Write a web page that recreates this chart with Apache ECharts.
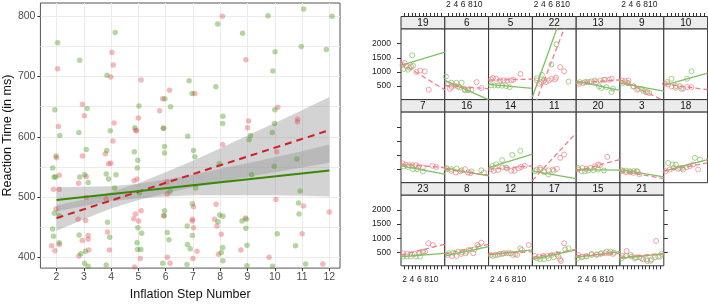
<!DOCTYPE html>
<html>
<head>
<meta charset="utf-8">
<script src="https://cdn.jsdelivr.net/npm/echarts@6/dist/echarts.min.js"></script>
<style>
  html, body { margin: 0; padding: 0; background: #fff; }
  #chart { width: 708px; height: 306px; }
</style>
</head>
<body>
<div id="chart"></div>
<script>
// ---------- left panel: pooled data ----------
const stepTicks = [2, 3, 4, 5, 6, 7, 8, 9, 10, 11, 12]
const rtLabels = [400, 500, 600, 700, 800]
const rtGridLines = [400, 450, 500, 550, 600, 650, 700, 750, 800]

const redPoints = [
  [2.04, 713], [2.07, 617], [2.0, 565], [2.1, 536], [1.89, 513], [2.1, 513], [1.98, 480], [2.1, 421], [1.82, 419], [1.94, 411],
  [2.95, 654], [3.02, 635], [2.95, 568], [3.09, 534], [2.81, 523], [3.09, 499], [2.79, 463], [3.07, 461], [2.94, 428], [3.16, 436], [3.16, 430], [3.18, 412], [2.82, 402],
  [4.03, 740], [4.08, 719], [3.99, 699], [4.11, 623], [4.07, 593], [3.79, 572], [3.91, 555], [3.99, 556], [3.82, 497], [3.87, 442], [3.94, 412],
  [5.1, 694], [5.0, 631], [4.9, 611], [4.93, 610], [4.84, 527], [4.95, 530], [4.89, 472], [5.1, 477], [5.01, 460], [4.83, 464], [5.07, 398], [4.86, 384],
  [5.89, 663], [6.14, 677], [5.78, 643], [5.91, 614], [6.05, 525], [6.06, 505], [5.92, 469], [6.06, 400], [6.16, 390],
  [7.07, 672], [7.02, 484], [6.98, 463], [6.98, 460], [7.02, 449], [7.15, 410], [7.0, 398],
  [8.08, 800], [8.09, 587], [7.85, 488], [7.79, 463], [7.88, 452], [8.04, 438], [7.94, 405],
  [8.94, 728], [9.04, 626], [9.0, 615], [8.92, 465], [8.76, 412],
  [10.11, 649], [10.07, 575], [10.04, 496], [9.79, 400],
  [10.83, 629], [10.83, 625], [11.05, 485], [11.0, 439], [11.76, 389],
  [12.0, 475]
]
const greenPoints = [
  [2.04, 756], [1.94, 645], [2.12, 602], [1.98, 568], [1.86, 548], [1.91, 533], [1.96, 533], [1.92, 473], [2.1, 469], [1.86, 447], [1.89, 435], [2.1, 424],
  [2.85, 727], [3.12, 647], [2.82, 607], [3.09, 579], [2.85, 533], [3.03, 537], [3.16, 524], [2.83, 437], [3.06, 410], [2.89, 406], [3.03, 390], [3.16, 385],
  [4.15, 773], [3.85, 702], [3.97, 610], [3.84, 577], [4.18, 537], [3.82, 538], [3.91, 530], [4.13, 515], [3.87, 458], [3.95, 433], [3.82, 387], [3.97, 381],
  [5.02, 651], [4.87, 615], [4.85, 575], [4.98, 561], [4.96, 548], [5.04, 507], [4.98, 449], [5.12, 440], [4.95, 424], [4.97, 413], [5.09, 413],
  [5.97, 663], [6.18, 650], [5.93, 614], [5.96, 584], [5.96, 573], [6.16, 509], [5.96, 477], [5.95, 469], [6.06, 441], [6.12, 429], [5.89, 390],
  [6.86, 693], [6.97, 672], [6.81, 601], [7.02, 577], [7.07, 567], [7.1, 515], [6.98, 489], [6.79, 452], [6.98, 436], [6.8, 421], [6.9, 414], [6.78, 388],
  [7.91, 787], [7.84, 683], [8.1, 634], [8.09, 622], [7.97, 555], [7.98, 470], [8.1, 468], [7.91, 459], [8.09, 416], [8.04, 408], [8.1, 394],
  [8.82, 772], [9.11, 602], [9.06, 595], [9.15, 537], [8.8, 460], [8.96, 463], [8.94, 448], [8.98, 420], [8.98, 386],
  [9.75, 801], [10.01, 741], [9.93, 709], [10.0, 645], [9.99, 622], [9.91, 607], [9.98, 551], [10.09, 439], [9.92, 385],
  [11.06, 812], [10.97, 750], [10.81, 563], [10.93, 510], [10.87, 490], [10.89, 472], [10.76, 419], [11.13, 389],
  [12.1, 800], [11.89, 745]
]

// confidence bands and fitted lines
const bandX = [2, 3, 4, 5, 6, 7, 8, 9, 10, 11, 12]
const redLower = [444, 463, 481, 495, 506, 516, 524, 533, 541, 549, 557]
const redUpper = [486, 496, 508, 523, 541, 560, 581, 602, 623, 644, 666]
const greenLower = [476, 485, 493, 498, 501, 503, 503, 503, 503, 502, 501]
const greenUpper = [516, 517, 518, 522, 529, 537, 547, 556, 566, 576, 587]
const redFit = [[2, 465], [12, 611]]
const greenFit = [[2, 495], [12, 544]]

// ---------- right panel: one small plot per participant ----------
const panelIds = [19, 6, 5, 22, 13, 9, 10, 7, 16, 14, 11, 20, 3, 18, 23, 8, 12, 17, 15, 21]
const panelRed = [
  [[1.4, 1250], [2.0, 1320], [2.5, 1200], [3.8, 1190], [5.2, 1000], [6.3, 1050], [7.5, 1020], [8.6, 370]],
  [[1.9, 560], [2.4, 400], [2.9, 470], [3.7, 520], [4.6, 480], [6.5, 380], [7.4, 380], [8.3, 370], [9.7, 640], [11.0, 430]],
  [[1.7, 735], [2.2, 790], [3.1, 760], [4.2, 700], [5.1, 700], [6.1, 700], [7.2, 700], [7.8, 720], [9.7, 930]],
  [[2.2, 700], [2.9, 582], [3.4, 641], [4.0, 676], [4.7, 641], [5.5, 700], [6.2, 759], [7.2, 735], [7.5, 800], [8.6, 1173], [9.7, 1025]],
  [[1.8, 582], [2.9, 606], [4.0, 641], [5.2, 664], [6.4, 641], [7.7, 700], [8.9, 724], [10.0, 724], [10.7, 759]],
  [[1.5, 700], [2.4, 676], [3.0, 606], [3.3, 700], [4.7, 487], [5.7, 369], [6.9, 405], [8.1, 286], [9.0, 250]],
  [[1.3, 582], [2.2, 558], [3.1, 487], [4.3, 440], [5.4, 500], [6.3, 405], [7.4, 464], [8.6, 464]],
  [[1.5, 700], [2.3, 660], [3.2, 640], [4.1, 640], [5.0, 640], [5.9, 600], [7.0, 560], [9.6, 620], [10.7, 580]],
  [[1.6, 500], [2.8, 440], [4.0, 380], [5.3, 420], [6.5, 500], [7.4, 380], [8.0, 360]],
  [[1.7, 499], [2.4, 440], [3.6, 470], [4.7, 558], [6.0, 530], [7.2, 440], [8.1, 440], [9.3, 530], [9.9, 580], [10.9, 620]],
  [[2.2, 487], [3.1, 546], [4.2, 428], [5.4, 460], [6.6, 487], [7.7, 511], [8.6, 901], [9.7, 1019]],
  [[1.5, 487], [2.7, 546], [3.8, 511], [4.9, 546], [6.1, 605], [7.0, 664], [7.5, 640], [9.5, 936]],
  [[1.7, 428], [2.6, 393], [3.7, 393], [4.7, 369], [5.6, 428], [6.3, 320]],
  [[1.5, 428], [2.6, 487], [3.7, 546], [4.9, 511], [6.1, 546], [7.2, 570], [8.1, 605], [9.0, 664], [10.4, 487]],
  [[1.6, 464], [2.6, 440], [3.6, 440], [4.8, 440], [6.0, 464], [6.9, 523], [7.6, 523], [8.5, 818], [9.7, 759]],
  [[1.8, 405], [3.0, 370], [4.2, 370], [5.5, 440], [6.7, 464], [7.6, 582], [8.8, 464], [9.9, 759], [11.0, 842]],
  [[1.6, 405], [2.8, 405], [4.0, 440], [5.1, 464], [6.5, 464], [7.7, 405], [8.8, 405], [10.1, 582], [12.0, 759]],
  [[1.7, 370], [2.9, 346], [4.0, 370], [5.1, 370], [6.3, 405], [7.7, 440], [8.6, 250], [8.8, 190], [9.7, 818]],
  [[1.5, 405], [2.7, 346], [3.8, 370], [5.2, 440], [6.6, 405], [7.7, 440], [8.9, 464], [10.0, 464], [11.1, 440]],
  [[1.7, 370], [2.8, 546], [3.9, 405], [5.1, 287], [6.3, 322], [7.4, 250], [8.5, 192], [9.7, 250], [10.9, 901], [12.0, 346]]
]
const panelGreen = [
  [[1.8, 1110], [2.9, 1080], [3.4, 1150], [4.1, 1590], [4.3, 1220]],
  [[1.3, 840], [2.8, 620], [4.2, 620], [5.6, 620], [5.1, 450], [6.5, 350], [7.4, 350]],
  [[1.7, 523], [2.6, 523], [3.6, 523], [4.7, 510], [5.8, 500], [6.8, 464]],
  [[2.2, 780], [3.6, 900], [4.2, 720], [6.2, 1260], [7.6, 1980], [10.9, 660]],
  [[2.0, 641], [3.4, 641], [4.6, 641], [6.1, 700], [7.3, 487], [7.9, 428], [8.6, 724], [9.3, 464], [10.7, 286], [11.1, 405]],
  [[1.7, 606], [3.3, 606], [4.7, 487], [6.0, 405], [7.4, 322], [8.5, 286]],
  [[1.9, 641], [3.1, 759], [4.3, 500], [5.8, 405], [7.4, 759], [8.6, 1025]],
  [[1.7, 600], [2.9, 580], [4.3, 500], [5.4, 500], [7.0, 420]],
  [[1.5, 530], [2.8, 500], [4.2, 520], [5.6, 460], [8.3, 420], [11.0, 460], [11.7, 380]],
  [[2.0, 617], [3.1, 676], [4.7, 818], [5.8, 558], [7.5, 1007], [9.7, 1149]],
  [[1.7, 428], [3.1, 487], [4.2, 393], [5.4, 310], [6.8, 440]],
  [[1.5, 546], [2.5, 428], [3.4, 428], [4.3, 452], [5.7, 463], [7.0, 487], [8.6, 452]],
  [[1.5, 463], [2.6, 452], [3.7, 428], [4.8, 428], [5.8, 416]],
  [[2.2, 723], [3.4, 664], [4.3, 664], [5.4, 546], [6.3, 487], [9.5, 901], [10.9, 842]],
  [[1.6, 346], [2.6, 346], [3.6, 346], [5.1, 346], [6.2, 346], [7.1, 500]],
  [[2.1, 464], [3.3, 487], [4.6, 523], [5.7, 500], [6.9, 523], [9.1, 605], [10.3, 700]],
  [[2.2, 370], [3.5, 405], [4.7, 440], [5.8, 464], [7.1, 464], [8.3, 430], [9.7, 641]],
  [[2.2, 287], [3.1, 250], [4.2, 250], [5.4, 287], [6.8, 322], [8.1, 346], [10.0, 605], [10.9, 641]],
  [[1.3, 287], [2.5, 322], [3.8, 346], [5.2, 405], [6.6, 430], [7.9, 464], [9.3, 523], [10.4, 523], [11.3, 487]],
  [[1.5, 287], [2.6, 370], [4.2, 346], [5.4, 322], [6.9, 287], [8.3, 250], [9.4, 200], [10.6, 322], [11.5, 346], [12.4, 440]]
]
// fitted line per panel: value at the left edge (x = 1) and at the right edge (x = 13)
const fitX = [1, 13]
const panelRedFit = [
  [1315, 365], [523, 405], [710, 745], [-382, 3638], [606, 724], [724, -16], [582, 369],
  [676, 558], [499, 286], [499, 617], [97, 1787], [428, 842], [428, 168], [428, 723],
  [405, 783], [440, 783], [440, 523], [322, 605], [370, 464], [322, 464]
]
const panelGreenFit = [
  [1232, 1705], [700, 20], [558, 420], [109, 4465], [676, 345], [606, 322], [523, 960],
  [617, 322], [534, 262], [558, 1031], [428, 168], [487, 463], [487, 227], [428, 842],
  [346, 464], [370, 700], [405, 582], [252, 582], [322, 523], [287, 440]
]
const latticeXTicks = [2, 3, 4, 5, 6, 7, 8, 9, 10, 11, 12]
const latticeXLabels = [2, 4, 6, 8, 10]
const latticeYTicks = [500, 1000, 1500, 2000]

// ---------- layout ----------
const FONT = 'Liberation Sans, Arial, sans-serif'
const colLeft = [401, 444.8, 488.6, 532.4, 576.2, 620, 663.8]
const cellW = 43.8
const stripH = 12.3
const cellH = 70.8
const rowTop0 = 16.5
const rowStep = 83.1

const RED_PT = 'rgba(228, 60, 70, 0.45)'
const GREEN_PT = 'rgba(70, 150, 20, 0.5)'
const BAND = 'rgba(150, 150, 150, 0.42)'
const LAT_RED = '#ee7f88'
const LAT_GREEN = '#80bf62'

// whole ribbon drawn once, through the axis scales
function bandRenderer(lower, upper) {
  return (params, api) => {
    if (params.dataIndex !== 0) return
    const top = bandX.map((x, i) => api.coord([x, upper[i]]))
    const bottom = bandX.map((x, i) => api.coord([x, lower[i]])).reverse()
    return { type: 'polygon', shape: { points: top.concat(bottom) }, style: { fill: BAND } }
  }
}

const grids = [{ left: 36, top: 3, width: 304, height: 274, show: true, borderColor: '#555', borderWidth: 1, backgroundColor: '#fff' }]
const xAxes = [{
  gridIndex: 0, type: 'value', min: 1.41, max: 12.39,
  name: 'Inflation Step Number', nameLocation: 'middle', nameGap: 13,
  nameTextStyle: { fontFamily: FONT, fontSize: 12.5, color: '#111' },
  axisLine: { show: false },
  axisTick: { length: 3, lineStyle: { color: '#333' }, customValues: stepTicks },
  axisLabel: { customValues: stepTicks, margin: 4, fontFamily: FONT, fontSize: 10.5, color: '#4d4d4d' },
  splitLine: { show: true, lineStyle: { color: '#ebebeb', width: 1 } }
}]
const yAxes = [{
  gridIndex: 0, type: 'value', min: 382, max: 822,
  name: 'Reaction Time (in ms)', nameLocation: 'middle', nameGap: 18, nameRotate: 90,
  nameTextStyle: { fontFamily: FONT, fontSize: 12.5, color: '#111' },
  axisLine: { show: false },
  axisTick: { show: false, customValues: rtGridLines },
  axisLabel: { customValues: rtLabels, margin: 5, fontFamily: FONT, fontSize: 10.5, color: '#4d4d4d' },
  splitLine: { show: true, lineStyle: { color: '#ebebeb', width: 1 } }
}, {
  // tick marks only at the labelled values
  gridIndex: 0, type: 'value', min: 382, max: 822, position: 'left',
  axisLine: { show: false },
  axisTick: { length: 3, lineStyle: { color: '#333' }, customValues: rtLabels },
  axisLabel: { show: false },
  splitLine: { show: false }
}]

const series = [
  { type: 'scatter', xAxisIndex: 0, yAxisIndex: 0, data: redPoints, symbolSize: 5.5, itemStyle: { color: RED_PT } },
  { type: 'scatter', xAxisIndex: 0, yAxisIndex: 0, data: greenPoints, symbolSize: 5.5, itemStyle: { color: GREEN_PT } },
  { type: 'custom', xAxisIndex: 0, yAxisIndex: 0, renderItem: bandRenderer(redLower, redUpper),
    data: bandX.map((x, i) => [x, redLower[i], redUpper[i]]), encode: { x: 0, y: [1, 2] } },
  { type: 'custom', xAxisIndex: 0, yAxisIndex: 0, renderItem: bandRenderer(greenLower, greenUpper),
    data: bandX.map((x, i) => [x, greenLower[i], greenUpper[i]]), encode: { x: 0, y: [1, 2] } },
  { type: 'line', xAxisIndex: 0, yAxisIndex: 0, data: redFit, symbol: 'none',
    lineStyle: { color: '#d41a22', width: 2, type: [7, 5] } },
  { type: 'line', xAxisIndex: 0, yAxisIndex: 0, data: greenFit, symbol: 'none',
    lineStyle: { color: '#378a05', width: 2 } }
]

const graphics = []
const tickStyle = { color: '#333', width: 1 }
const smallLabel = { fontFamily: FONT, fontSize: 8.5, color: '#222', formatter: v => String(v) }

panelIds.forEach((id, i) => {
  const row = Math.floor(i / 7)
  const col = i % 7
  const stripTop = rowTop0 + row * rowStep
  const g = grids.length
  grids.push({ left: colLeft[col], top: stripTop + stripH, width: cellW, height: cellH,
    show: true, borderColor: '#333', borderWidth: 1, backgroundColor: '#fff' })

  const hasX = row === 0 || row === 2
  const xLabel = (row === 0 && col % 2 === 1) || (row === 2 && col % 2 === 0)
  xAxes.push({
    gridIndex: g, type: 'value', min: 1, max: 13,
    position: row === 0 ? 'top' : 'bottom', offset: row === 0 ? stripH : 0,
    axisLine: { show: false },
    axisTick: { show: hasX, length: 3.5, lineStyle: tickStyle, customValues: latticeXTicks },
    axisLabel: { show: xLabel, customValues: latticeXLabels, margin: row === 0 ? 7 : 9, ...smallLabel },
    splitLine: { show: false }
  })
  yAxes.push({
    gridIndex: g, type: 'value', min: 20, max: 2530,
    axisLine: { show: false },
    axisTick: { show: col === 0, length: 4, lineStyle: tickStyle, customValues: latticeYTicks },
    axisLabel: { show: col === 0 && row !== 1, customValues: latticeYTicks, margin: 10, ...smallLabel },
    splitLine: { show: false }
  })
  const xi = xAxes.length - 1
  const yi = yAxes.length - 1

  series.push(
    { type: 'scatter', xAxisIndex: xi, yAxisIndex: yi, data: panelRed[i], symbol: 'circle', symbolSize: 5,
      itemStyle: { color: 'rgba(0,0,0,0)', borderColor: LAT_RED, borderWidth: 0.9 } },
    { type: 'scatter', xAxisIndex: xi, yAxisIndex: yi, data: panelGreen[i], symbol: 'circle', symbolSize: 5,
      itemStyle: { color: 'rgba(0,0,0,0)', borderColor: LAT_GREEN, borderWidth: 0.9 } },
    { type: 'line', xAxisIndex: xi, yAxisIndex: yi, symbol: 'none', clip: true,
      data: fitX.map((x, k) => [x, panelGreenFit[i][k]]), lineStyle: { color: LAT_GREEN, width: 1.3 } },
    { type: 'line', xAxisIndex: xi, yAxisIndex: yi, symbol: 'none', clip: true,
      data: fitX.map((x, k) => [x, panelRedFit[i][k]]), lineStyle: { color: LAT_RED, width: 1.3, type: [5, 3] } }
  )

  graphics.push(
    { type: 'rect', shape: { x: colLeft[col], y: stripTop, width: cellW, height: stripH },
      style: { fill: '#ececec', stroke: '#333', lineWidth: 1 } },
    { type: 'text', x: colLeft[col] + cellW / 2, y: stripTop + stripH / 2 + 0.5,
      style: { text: String(id), align: 'center', verticalAlign: 'middle', fontFamily: FONT, fontSize: 10, fill: '#111' } }
  )

  // right-hand tick marks on the last panel of the bottom row
  if (i === panelIds.length - 1) {
    yAxes.push({
      gridIndex: g, type: 'value', min: 20, max: 2530, position: 'right',
      axisLine: { show: false },
      axisTick: { length: 4, lineStyle: tickStyle, customValues: latticeYTicks },
      axisLabel: { show: false },
      splitLine: { show: false }
    })
  }
})

const chart = echarts.init(document.getElementById('chart'))
chart.setOption({
  animation: false,
  backgroundColor: '#fff',
  grid: grids,
  xAxis: xAxes,
  yAxis: yAxes,
  series: series.map(s => ({ silent: true, ...s })),
  graphic: graphics
})

window.addEventListener('resize', () => {
  chart.resize()
})
</script>
</body>
</html>
